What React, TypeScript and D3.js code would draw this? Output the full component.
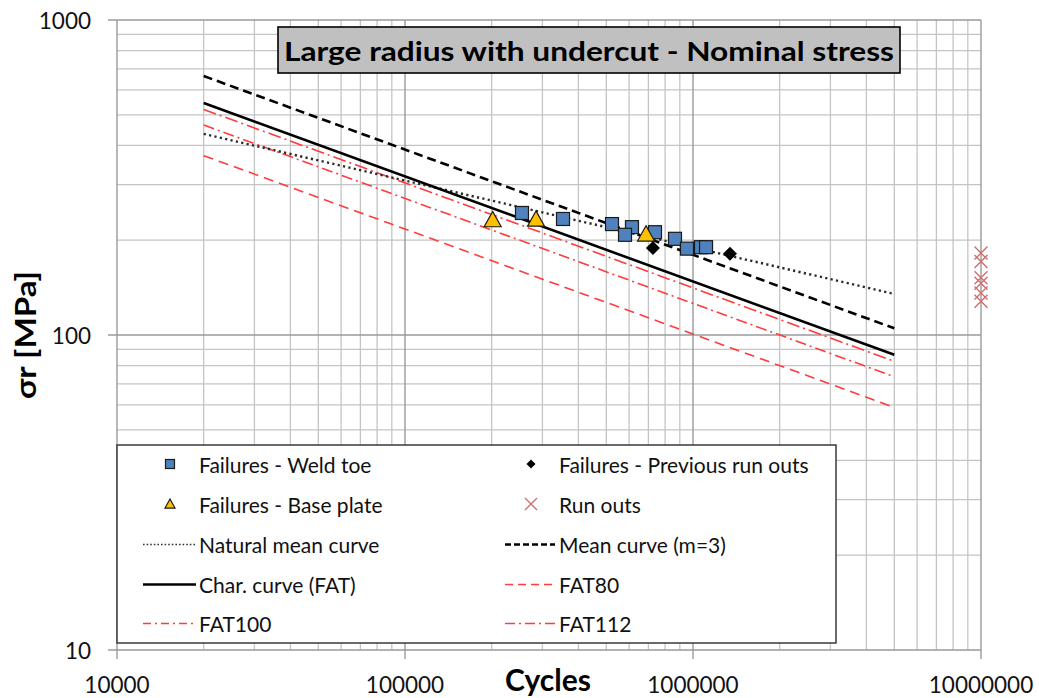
import React from "react";
import * as d3 from "d3";

// ---------- data ----------
const weldToeN = [254800, 353700, 523300, 613900, 580700, 738000, 865900, 953000, 1066000, 1110000];
const weldToeS = [244, 233.5, 225, 220, 208, 212, 202, 188, 190, 190];

const basePlateN = [201600, 285000, 686800];
const basePlateS = [232, 233, 209];

const prevRunOutN = [726000, 1344000];
const prevRunOutS = [189, 181];

const runOutN = [1e7, 1e7, 1e7, 1e7, 1e7, 1e7];
const runOutS = [182, 171, 152, 146, 136, 128];

const curveN = [2e4, 5e6];
const naturalMeanS = [435, 135];
const meanS = [664, 105];
const charS = [545, 86.5];
const fat80S = [371, 58.9];
const fat100S = [464, 73.7];
const fat112S = [520, 82.5];

const xTicks = [1e4, 1e5, 1e6, 1e7];
const xTickLabels = ["10000", "100000", "1000000", "10000000"];
const yTicks = [10, 100, 1000];
const yTickLabels = ["10", "100", "1000"];

const title = "Large radius with undercut - Nominal stress";
const xTitle = "Cycles";
const yTitle = "σr [MPa]";

// ---------- layout ----------
const W = 1039;
const H = 698;
const X0 = 117, X1 = 981, Y0 = 650, Y1 = 20;
const FONT = "Lato, 'Open Sans', sans-serif";

const x = d3.scaleLog().domain([1e4, 1e7]).range([X0, X1]);
const y = d3.scaleLog().domain([10, 1000]).range([Y0, Y1]);

function minorValues(lo: number, hi: number) {
  const out: number[] = [];
  for (let d = lo; d < hi; d *= 10) {
    for (let k = 2; k <= 9; k++) out.push(d * k);
  }
  return out;
}

const lineGen = d3
  .line<[number, number]>()
  .x((d) => x(d[0]))
  .y((d) => y(d[1]));

const pts = (N: number[], S: number[]) => N.map((n, i) => [n, S[i]] as [number, number]);

const RED = "#ff3b3b";

const curves = [
  { key: "fat80", S: fat80S, stroke: RED, width: 1.6, dash: "10 6" },
  { key: "fat100", S: fat100S, stroke: RED, width: 1.6, dash: "11 4 2 4" },
  { key: "fat112", S: fat112S, stroke: RED, width: 1.6, dash: "13 4 2 4" },
  { key: "natural", S: naturalMeanS, stroke: "#2a2a2a", width: 2.4, dash: "2.2 3.3" },
  { key: "mean", S: meanS, stroke: "#000", width: 2.6, dash: "9 5" },
  { key: "char", S: charS, stroke: "#000", width: 2.6, dash: undefined as string | undefined },
];

function Square({ cx, cy, s }: { cx: number; cy: number; s: number }) {
  return <rect x={cx - s / 2} y={cy - s / 2} width={s} height={s} fill="#4f81bd" stroke="#1a1a1a" strokeWidth={1.2} />;
}
function Triangle({ cx, cy, s }: { cx: number; cy: number; s: number }) {
  const h = s * 0.9;
  return (
    <path
      d={`M${cx},${cy - h * 0.55} L${cx + s / 2},${cy + h * 0.45} L${cx - s / 2},${cy + h * 0.45} Z`}
      fill="#ffc000"
      stroke="#1a1a1a"
      strokeWidth={1.2}
    />
  );
}
function Diamond({ cx, cy, s }: { cx: number; cy: number; s: number }) {
  const r = s / 2;
  return <path d={`M${cx},${cy - r} L${cx + r},${cy} L${cx},${cy + r} L${cx - r},${cy} Z`} fill="#000" />;
}
function Cross({ cx, cy, s }: { cx: number; cy: number; s: number }) {
  const r = s / 2;
  return (
    <path
      d={`M${cx - r},${cy - r} L${cx + r},${cy + r} M${cx + r},${cy - r} L${cx - r},${cy + r}`}
      stroke="#cc6f6f"
      strokeWidth={1.4}
      fill="none"
    />
  );
}

export default function App() {
  const minorX = minorValues(1e4, 1e7);
  const minorY = minorValues(10, 1000);

  const legendRows = [464, 504, 544.5, 584.5, 623.5];
  const c1Line = [143, 196];
  const c2Line = [505, 555];
  const c1Text = 199;
  const c2Text = 559;
  const legendFont = 21;

  return (
    <svg width={W} height={H} style={{ position: "absolute", left: 0, top: 0, background: "#fff" }} fontFamily={FONT}>
      <rect x={0} y={0} width={W} height={H} fill="#fff" />
      {/* minor grid */}
      <g stroke="#c4c4c4" strokeWidth={1.3}>
        {minorX.map((v) => (
          <line key={"mx" + v} x1={x(v)} x2={x(v)} y1={Y1} y2={Y0} />
        ))}
        {minorY.map((v) => (
          <line key={"my" + v} x1={X0} x2={X1} y1={y(v)} y2={y(v)} />
        ))}
      </g>
      {/* major grid */}
      <g stroke="#9a9a9a" strokeWidth={1.4}>
        {xTicks.map((v) => (
          <line key={"Mx" + v} x1={x(v)} x2={x(v)} y1={Y1} y2={Y0 + 9} />
        ))}
        {yTicks.map((v) => (
          <line key={"My" + v} x1={X0 - 9} x2={X1} y1={y(v)} y2={y(v)} />
        ))}
      </g>

      {/* curves */}
      {curves.map((c) => (
        <path
          key={c.key}
          d={lineGen(pts(curveN, c.S)) || ""}
          fill="none"
          stroke={c.stroke}
          strokeWidth={c.width}
          strokeDasharray={c.dash}
        />
      ))}

      {/* markers */}
      {pts(runOutN, runOutS).map((p, i) => (
        <Cross key={"ro" + i} cx={x(p[0])} cy={y(p[1])} s={13} />
      ))}
      {pts(weldToeN, weldToeS).map((p, i) => (
        <Square key={"wt" + i} cx={x(p[0])} cy={y(p[1])} s={13} />
      ))}
      {pts(basePlateN, basePlateS).map((p, i) => (
        <Triangle key={"bp" + i} cx={x(p[0])} cy={y(p[1])} s={17} />
      ))}
      {pts(prevRunOutN, prevRunOutS).map((p, i) => (
        <Diamond key={"pr" + i} cx={x(p[0])} cy={y(p[1])} s={14} />
      ))}

      {/* axis tick labels */}
      <g fontSize={22.5} fill="#111">
        {yTicks.map((v, i) => (
          <text key={"yl" + v} x={91} y={y(v)} textAnchor="end" dominantBaseline="central">
            {yTickLabels[i]}
          </text>
        ))}
        {xTicks.map((v, i) => (
          <text key={"xl" + v} x={x(v)} y={693} textAnchor="middle">
            {xTickLabels[i]}
          </text>
        ))}
      </g>

      {/* axis titles */}
      <text x={548} y={691} textAnchor="middle" fontSize={30} fontWeight="bold" fill="#000">
        {xTitle}
      </text>
      <text
        transform={`translate(36,335) rotate(-90)`}
        textAnchor="middle"
        fontSize={29}
        fontWeight="bold"
        fill="#000"
        textLength={128}
        lengthAdjust="spacingAndGlyphs"
      >
        {yTitle}
      </text>

      {/* legend */}
      <rect x={117} y={445} width={719} height={198} fill="#fff" stroke="#3a3a3a" strokeWidth={1.5} />
      <g fontSize={legendFont} fill="#111">
        <Square cx={170} cy={legendRows[0]} s={9} />
        <text x={c1Text} y={legendRows[0]} dominantBaseline="central">Failures - Weld toe</text>
        <Diamond cx={531} cy={legendRows[0]} s={9} />
        <text x={c2Text} y={legendRows[0]} dominantBaseline="central">Failures - Previous run outs</text>

        <Triangle cx={170} cy={legendRows[1]} s={10} />
        <text x={c1Text} y={legendRows[1]} dominantBaseline="central">Failures - Base plate</text>
        <Cross cx={531} cy={legendRows[1]} s={12} />
        <text x={c2Text} y={legendRows[1]} dominantBaseline="central">Run outs</text>

        <line x1={c1Line[0]} x2={c1Line[1]} y1={legendRows[2]} y2={legendRows[2]} stroke="#333" strokeWidth={1.6} strokeDasharray="1.6 2" />
        <text x={c1Text} y={legendRows[2]} dominantBaseline="central">Natural mean curve</text>
        <line x1={c2Line[0]} x2={c2Line[1]} y1={legendRows[2]} y2={legendRows[2]} stroke="#000" strokeWidth={2.4} strokeDasharray="6 3" />
        <text x={c2Text} y={legendRows[2]} dominantBaseline="central">Mean curve (m=3)</text>

        <line x1={c1Line[0]} x2={c1Line[1]} y1={legendRows[3]} y2={legendRows[3]} stroke="#000" strokeWidth={2.4} />
        <text x={c1Text} y={legendRows[3]} dominantBaseline="central">Char. curve (FAT)</text>
        <line x1={c2Line[0]} x2={c2Line[1]} y1={legendRows[3]} y2={legendRows[3]} stroke={RED} strokeWidth={1.4} strokeDasharray="8 5" />
        <text x={c2Text} y={legendRows[3]} dominantBaseline="central">FAT80</text>

        <line x1={c1Line[0]} x2={c1Line[1]} y1={legendRows[4]} y2={legendRows[4]} stroke={RED} strokeWidth={1.4} strokeDasharray="8 4 2 4" />
        <text x={c1Text} y={legendRows[4]} dominantBaseline="central">FAT100</text>
        <line x1={c2Line[0]} x2={c2Line[1]} y1={legendRows[4]} y2={legendRows[4]} stroke={RED} strokeWidth={1.4} strokeDasharray="10 4 2 4" />
        <text x={c2Text} y={legendRows[4]} dominantBaseline="central">FAT112</text>
      </g>

      {/* title */}
      <rect x={278} y={27} width={622} height={46} fill="#c0c0c0" stroke="#000" strokeWidth={1.6} />
      <text x={589} y={61} textAnchor="middle" fontSize={27} fontWeight="bold" fill="#000" textLength={610} lengthAdjust="spacingAndGlyphs">
        {title}
      </text>
    </svg>
  );
}
